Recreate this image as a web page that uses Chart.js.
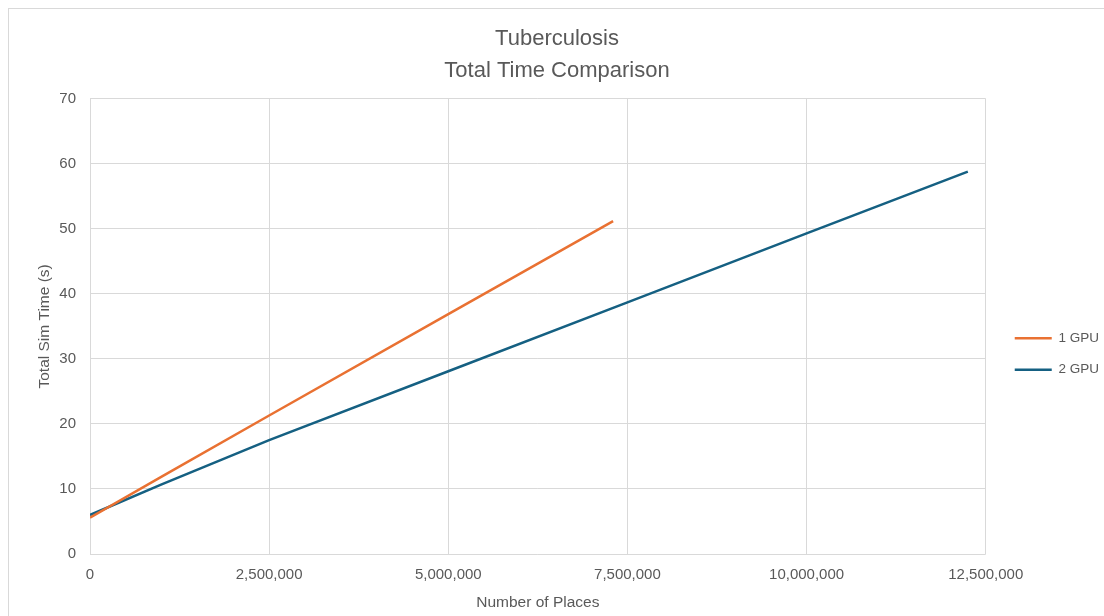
<!DOCTYPE html>
<html>
<head>
<meta charset="utf-8">
<title>Tuberculosis Total Time Comparison</title>
<script src="https://cdn.jsdelivr.net/npm/chart.js@4/dist/chart.umd.min.js"></script>
<style>
  html, body { margin: 0; padding: 0; background: #ffffff; overflow: hidden; }
  #wrap { position: relative; width: 1104px; height: 616px; }
  #frame { position: absolute; left: 8px; top: 8px; width: 1200px; height: 700px;
           border: 1px solid #d9d9d9; pointer-events: none; }
  canvas { display: block; }
</style>
</head>
<body>
<div id="wrap">
  <canvas id="chart" width="1104" height="616"></canvas>
  <div id="frame"></div>
</div>
<script>
// Simulation timings: number of places vs. total simulated time in seconds
const places1Gpu = [0, 1000000, 2500000, 5000000, 7300000];
const time1Gpu   = [5.6, 11.9, 21.3, 36.9, 51.2];

const places2Gpu = [0, 1000000, 2500000, 5000000, 7500000, 10000000, 12250000];
const time2Gpu   = [6.0, 10.7, 17.5, 28.1, 38.7, 49.3, 58.8];

const seriesLabels = ['1 GPU', '2 GPU'];
const xTicks = [0, 2500000, 5000000, 7500000, 10000000, 12500000];
const yTicks = [0, 10, 20, 30, 40, 50, 60, 70];

const textColor = '#595959';
const gridColor = '#d9d9d9';
const fontFamily = '"Liberation Sans", Arial, sans-serif';

const toPoints = (xs, ys) => xs.map((x, i) => ({ x: x, y: ys[i] }));

// Nudges the legend block to the right and down so it sits beside the plot
const legendOffset = {
  id: 'legendOffset',
  afterLayout(chart) {
    const lg = chart.legend;
    if (!lg) return;
    lg.left += 11; lg.right += 11;
    lg.top += 46; lg.bottom += 46;
  }
};

new Chart(document.getElementById('chart'), {
  type: 'scatter',
  data: {
    datasets: [
      {
        label: seriesLabels[0],
        data: toPoints(places1Gpu, time1Gpu),
        showLine: true,
        borderColor: '#e97132',
        backgroundColor: '#e97132',
        borderWidth: 2.5,
        pointRadius: 0,
        pointHoverRadius: 0,
        tension: 0
      },
      {
        label: seriesLabels[1],
        data: toPoints(places2Gpu, time2Gpu),
        showLine: true,
        borderColor: '#156082',
        backgroundColor: '#156082',
        borderWidth: 2.5,
        pointRadius: 0,
        pointHoverRadius: 0,
        tension: 0
      }
    ]
  },
  options: {
    responsive: false,
    animation: false,
    layout: { padding: { left: 16, right: 6, top: 0, bottom: 0 } },
    plugins: {
      tooltip: { enabled: false },
      title: {
        display: true,
        text: ['Tuberculosis', 'Total Time Comparison'],
        color: textColor,
        font: { family: fontFamily, size: 22, weight: 'normal', lineHeight: 1.45 },
        padding: { top: 23, bottom: 12 }
      },
      legend: {
        position: 'right',
        labels: {
          color: textColor,
          font: { family: fontFamily, size: 13.5 },
          usePointStyle: true,
          pointStyle: 'line',
          pointStyleWidth: 37,
          padding: 18
        }
      }
    },
    scales: {
      x: {
        type: 'linear',
        min: 0,
        max: 12500000,
        afterFit(scale) { scale.height = 62; },
        afterBuildTicks(scale) { scale.ticks = xTicks.map(v => ({ value: v })); },
        grid: { color: gridColor, lineWidth: 1, drawTicks: false, tickLength: 0 },
        border: { display: false },
        ticks: {
          color: textColor,
          font: { family: fontFamily, size: 15 },
          padding: 12,
          maxRotation: 0,
          callback: v => Number(v).toLocaleString('en-US')
        },
        title: {
          display: true,
          text: 'Number of Places',
          color: textColor,
          font: { family: fontFamily, size: 15.5 },
          padding: { top: 0, bottom: 4 }
        }
      },
      y: {
        type: 'linear',
        min: 0,
        max: 70,
        afterFit(scale) { scale.width = 74; },
        afterBuildTicks(scale) { scale.ticks = yTicks.map(v => ({ value: v })); },
        grid: { color: gridColor, lineWidth: 1, drawTicks: false, tickLength: 0 },
        border: { display: false },
        ticks: {
          color: textColor,
          font: { family: fontFamily, size: 15 },
          padding: 14
        },
        title: {
          display: true,
          text: 'Total Sim Time (s)',
          color: textColor,
          font: { family: fontFamily, size: 15.5 },
          padding: { top: 19, bottom: 0 }
        }
      }
    }
  },
  plugins: [legendOffset]
});
</script>
</body>
</html>
